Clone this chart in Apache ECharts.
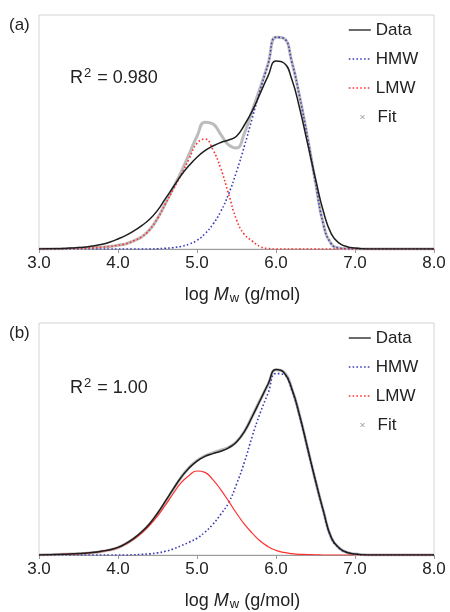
<!DOCTYPE html>
<html>
<head>
<meta charset="utf-8">
<script src="https://cdn.jsdelivr.net/npm/echarts@6/dist/echarts.min.js"></script>
<style>
html,body{margin:0;padding:0;background:#fff;}
#chart{width:450px;height:612px;}
</style>
</head>
<body>
<div id="chart"></div>
<script>
// x values: log Mw
const logM = [3.0,3.1,3.2,3.3,3.4,3.5,3.6,3.7,3.8,3.9,4.0,4.1,4.2,4.3,4.4,4.5,4.6,4.7,4.8,4.9,5.0,5.1,5.2,5.3,5.4,5.5,5.6,5.7,5.8,5.9,6.0,6.1,6.2,6.3,6.4,6.5,6.6,6.7,6.8,6.9,7.0,7.1,7.2,7.3,7.4,7.5,7.6,7.7,7.8,7.9,8.0];
const xTicks = [3.0,4.0,5.0,6.0,7.0,8.0];
const seriesNames = ['Data','HMW','LMW','Fit'];
const r2Labels = ['0.980','1.00'];
const panelLabels = ['(a)','(b)'];

// Panel (a)
const dataA = [0,0.001,0.001,0.002,0.004,0.006,0.009,0.014,0.020,0.030,0.043,0.058,0.077,0.100,0.127,0.165,0.215,0.265,0.315,0.357,0.392,0.420,0.440,0.455,0.466,0.482,0.530,0.590,0.665,0.740,0.803,0.795,0.725,0.600,0.450,0.300,0.160,0.065,0.025,0.010,0.004,0.001,0,0,0,0,0,0,0,0,0];
const hmwA = [0,0,0,0,0,0,0,0,0,0,0,0,0,0,0,0.001,0.003,0.006,0.011,0.021,0.037,0.065,0.105,0.160,0.235,0.330,0.440,0.560,0.680,0.790,0.905,0.900,0.800,0.650,0.475,0.285,0.105,0.022,0.004,0.001,0,0,0,0,0,0,0,0,0,0,0];
const lmwA = [0,0,0.001,0.001,0.002,0.003,0.004,0.006,0.008,0.011,0.016,0.022,0.035,0.052,0.082,0.130,0.192,0.255,0.318,0.385,0.452,0.470,0.425,0.345,0.235,0.125,0.062,0.034,0.010,0.002,0,0,0,0,0,0,0,0,0,0,0,0,0,0,0,0,0,0,0,0,0];
const fitA = [0,0,0.001,0.001,0.002,0.003,0.004,0.006,0.008,0.011,0.016,0.022,0.035,0.052,0.082,0.131,0.195,0.262,0.330,0.405,0.482,0.542,0.535,0.490,0.445,0.432,0.495,0.592,0.690,0.792,0.905,0.900,0.800,0.650,0.475,0.285,0.105,0.022,0.004,0.001,0,0,0,0,0,0,0,0,0,0,0];

// Panel (b)
const dataB = [0,0.001,0.002,0.003,0.004,0.006,0.009,0.012,0.017,0.023,0.033,0.050,0.072,0.100,0.135,0.180,0.232,0.285,0.335,0.375,0.405,0.425,0.437,0.447,0.462,0.487,0.532,0.597,0.667,0.737,0.800,0.787,0.717,0.600,0.460,0.320,0.190,0.075,0.030,0.011,0.004,0.001,0,0,0,0,0,0,0,0,0];
const hmwB = [0,0,0,0,0,0,0,0,0,0,0,0,0.001,0.003,0.005,0.009,0.016,0.026,0.040,0.055,0.072,0.098,0.132,0.175,0.225,0.305,0.400,0.512,0.612,0.698,0.782,0.778,0.711,0.597,0.458,0.319,0.189,0.074,0.030,0.011,0.004,0.001,0,0,0,0,0,0,0,0,0];
const lmwB = [0,0.001,0.002,0.003,0.004,0.005,0.008,0.011,0.016,0.022,0.032,0.048,0.069,0.095,0.128,0.168,0.215,0.265,0.312,0.343,0.362,0.356,0.325,0.282,0.232,0.180,0.133,0.094,0.060,0.036,0.020,0.011,0.006,0.003,0.002,0.001,0,0,0,0,0,0,0,0,0,0,0,0,0,0,0];
const fitB = [0,0.001,0.002,0.003,0.004,0.005,0.008,0.011,0.016,0.022,0.032,0.048,0.070,0.098,0.133,0.177,0.228,0.283,0.335,0.377,0.407,0.427,0.440,0.452,0.464,0.488,0.533,0.599,0.668,0.735,0.798,0.788,0.717,0.600,0.460,0.320,0.189,0.074,0.030,0.011,0.004,0.001,0,0,0,0,0,0,0,0,0];

const FONT = '"Liberation Sans", Arial, sans-serif';
const BLUE = '#3c3cb8';
const RED = '#ff3030';
const DOT = [1.6, 2.2];

function pairs(ys){ return logM.map((x,i)=>[x, ys[i]]); }

const panels = [
  {top: 15, height: 234, data: dataA, hmw: hmwA, lmw: lmwA, fit: fitA, lmwDotted: true},
  {top: 323, height: 235, data: dataB, hmw: hmwB, lmw: lmwB, fit: fitB, lmwDotted: false}
];

const grids = [], xAxes = [], yAxes = [], series = [], legends = [], graphics = [];
panels.forEach((p, k) => {
  grids.push({left: 39, right: 16, top: p.top, height: p.height, show: true, borderColor: '#d4d4d4', borderWidth: 1, containLabel: false});
  xAxes.push({
    type: 'value', gridIndex: k, min: 3, max: 8, interval: 1,
    axisLine: {show: true, onZero: false, lineStyle: {color: '#9a9a9a', width: 1}},
    axisTick: {show: true, inside: false, length: 4, lineStyle: {color: '#9a9a9a'}},
    splitLine: {show: false},
    axisLabel: {fontSize: 17, color: '#222', fontFamily: FONT, margin: 6, formatter: v => xTicks.includes(v) ? v.toFixed(1) : ''},
    name: 'log {i|M}{s|w} (g/mol)', nameLocation: 'middle', nameGap: 36,
    nameTextStyle: {fontSize: 18, color: '#222', fontFamily: FONT, padding: [0, 0, 0, 12],
      rich: {i: {fontSize: 18, fontStyle: 'italic', color: '#222', fontFamily: FONT},
             s: {fontSize: 13, color: '#222', fontFamily: FONT, padding: [7, 0, 0, 1]}}}
  });
  yAxes.push({type: 'value', gridIndex: k, min: 0, max: 1, show: false});
  series.push({name: 'Fit', type: 'line', xAxisIndex: k, yAxisIndex: k, data: pairs(p.fit), smooth: 0.5, symbol: 'none', color: '#888',
    lineStyle: {color: '#bcbcbc', width: 3}, z: 1});
  series.push({name: 'HMW', type: 'line', xAxisIndex: k, yAxisIndex: k, data: pairs(p.hmw), smooth: 0.5, symbol: 'none', color: BLUE,
    lineStyle: {color: BLUE, width: 1.6, type: DOT}, z: 2});
  series.push({name: 'LMW', type: 'line', xAxisIndex: k, yAxisIndex: k, data: pairs(p.lmw), smooth: 0.5, symbol: 'none', color: RED,
    lineStyle: {color: RED, width: p.lmwDotted ? 1.6 : 1.2, type: p.lmwDotted ? DOT : 'solid'}, z: 3});
  series.push({name: 'Data', type: 'line', xAxisIndex: k, yAxisIndex: k, data: pairs(p.data), smooth: 0.5, symbol: 'none', color: '#222',
    lineStyle: {color: '#1e1e1e', width: 1.5}, z: 4});

  const legTop = p.top + 1;
  legends.push({
    orient: 'vertical', left: 343, top: legTop, itemWidth: 22, itemHeight: 12, itemGap: 11, selectedMode: false,
    textStyle: {fontSize: 17, color: '#222', fontFamily: FONT, lineHeight: 18},
    data: [
      {name: 'Data', itemStyle: {opacity: 0}, lineStyle: {color: '#444', width: 1.6, type: 'solid'}},
      {name: 'HMW', itemStyle: {opacity: 0}, lineStyle: {color: BLUE, width: 1.6, type: DOT}},
      {name: 'LMW', itemStyle: {opacity: 0}, lineStyle: {color: RED, width: 1.6, type: DOT}}
    ]
  });
  legends.push({
    orient: 'vertical', left: 353, top: legTop + 87, itemWidth: 4, itemHeight: 4, selectedMode: false,
    textStyle: {fontSize: 17, color: '#222', fontFamily: FONT, lineHeight: 18, padding: [0, 0, 0, 8]},
    data: [{name: 'Fit', icon: 'path://M0,0L4,4M4,0L0,4', itemStyle: {color: 'none', borderColor: '#999', borderWidth: 1}}]
  });

  graphics.push({type: 'text', left: 9, top: p.top + 2, style: {text: panelLabels[k], font: '17px ' + FONT, fill: '#222'}});
  graphics.push({type: 'text', left: 70, top: p.top + 52 + (k ? 2 : 0), style: {
    text: 'R{sup|2} = ' + r2Labels[k], font: '18px ' + FONT, fill: '#222',
    rich: {sup: {fontSize: 13, fontFamily: FONT, fill: '#222', padding: [0, 1, 10, 1]}}
  }});
});

const chart = echarts.init(document.getElementById('chart'), null, {renderer: 'canvas'});
chart.setOption({
  animation: false,
  backgroundColor: '#fff',
  grid: grids, xAxis: xAxes, yAxis: yAxes, series: series, legend: legends, graphic: graphics
});
</script>
</body>
</html>
